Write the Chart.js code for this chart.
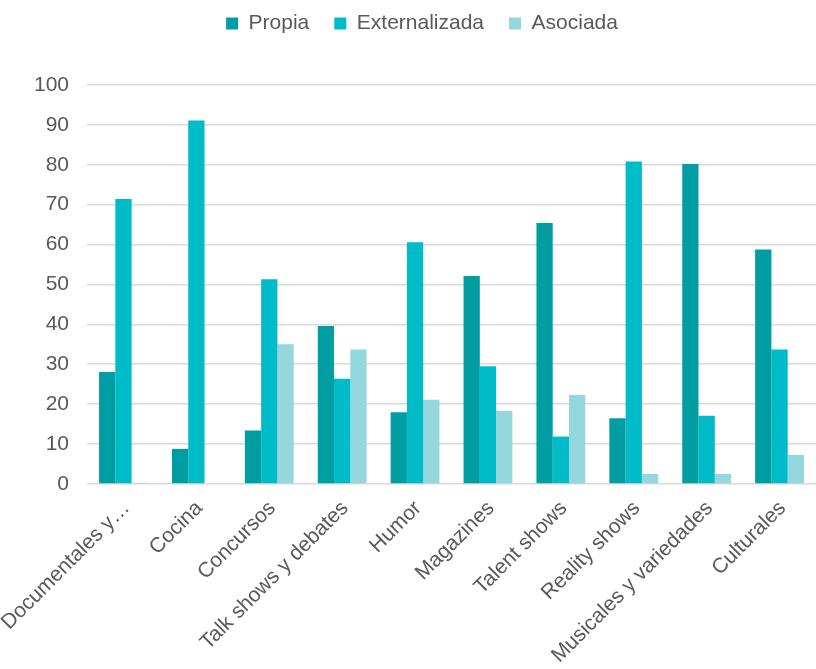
<!DOCTYPE html>
<html lang="es">
  <head>
    <meta charset="UTF-8" />
    <title>Producción por género</title>
    <script src="https://cdn.jsdelivr.net/npm/chart.js@4.4.1/dist/chart.umd.min.js"></script>
    <style>
      html, body { margin: 0; padding: 0; background: #fff; }
      #wrap { width: 816px; height: 669px; position: relative; }
    </style>
  </head>
  <body>
    <div id="wrap"><canvas id="myChart"></canvas></div>
    <script>
      var categories = [
        "Documentales y…", "Cocina", "Concursos", "Talk shows y debates", "Humor",
        "Magazines", "Talent shows", "Reality shows", "Musicales y variedades", "Culturales"
      ];
      var propia =        [28.1, 8.8, 13.4, 39.6, 18.0, 52.1, 65.4, 16.5, 80.2, 58.8];
      var externalizada = [71.4, 91.1, 51.3, 26.4, 60.6, 29.5, 11.9, 80.8, 17.1, 33.7];
      var asociada =      [0.3, 0, 35.0, 33.7, 21.1, 18.3, 22.3, 2.5, 2.5, 7.3];
      var yTicks = [0, 10, 20, 30, 40, 50, 60, 70, 80, 90, 100];

      var textColor = "#595959";
      var fontFamily = "'Liberation Sans', Arial, sans-serif";

      // extra room under the legend, and nudge it a bit to the right
      var legendMargin = {
        id: "legendMargin",
        beforeInit: function (chart) {
          var fit = chart.legend.fit;
          chart.legend.fit = function () {
            fit.bind(chart.legend)();
            this.height += 41;
          };
        },
        afterLayout: function (chart) {
          chart.legend.left += 6;
          chart.legend.right += 6;
        }
      };

      var ctx = document.getElementById("myChart").getContext("2d");
      var myChart = new Chart(ctx, {
        type: "bar",
        data: {
          labels: categories,
          datasets: [
            { label: "Propia", data: propia, backgroundColor: "#009ea3" },
            { label: "Externalizada", data: externalizada, backgroundColor: "#00bcc8" },
            { label: "Asociada", data: asociada, backgroundColor: "#94d7de" }
          ]
        },
        options: {
          responsive: true,
          maintainAspectRatio: false,
          animation: false,
          layout: { padding: { top: -12, left: 16, right: 0, bottom: 0 } },
          datasets: {
            bar: { barPercentage: 1, categoryPercentage: 0.67 }
          },
          plugins: {
            tooltip: { enabled: false },
            legend: {
              position: "top",
              labels: {
                color: textColor,
                font: { family: fontFamily, size: 21 },
                boxWidth: 12,
                boxHeight: 12,
                padding: 25
              }
            }
          },
          scales: {
            x: {
              grid: { display: false },
              border: { display: false },
              afterFit: function (axis) {
                axis.height = 185;
                axis.paddingLeft = 0;
              },
              ticks: {
                color: textColor,
                font: { family: fontFamily, size: 21 },
                minRotation: 45,
                maxRotation: 45,
                autoSkip: false,
                labelOffset: 3,
                padding: 4
              }
            },
            y: {
              min: 0,
              max: 100,
              afterBuildTicks: function (axis) {
                axis.ticks = yTicks.map(function (v) { return { value: v }; });
              },
              grid: { color: "#d9d9d9", lineWidth: 1.6, drawTicks: false },
              border: { display: false },
              ticks: {
                color: textColor,
                font: { family: fontFamily, size: 21 },
                padding: 18
              }
            }
          }
        },
        plugins: [legendMargin]
      });
    </script>
  </body>
</html>
